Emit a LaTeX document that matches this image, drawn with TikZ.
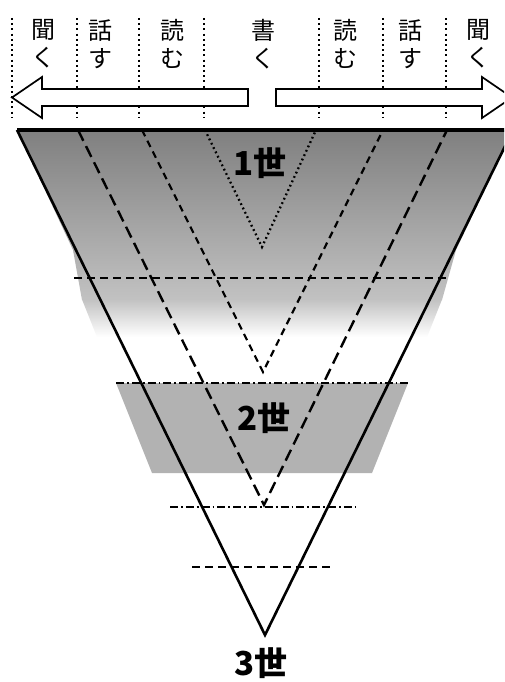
\documentclass[tikz,border=0pt]{standalone}
\usepackage{fontspec}
\newfontfamily\jpfont{Noto Sans CJK JP}
\usetikzlibrary{positioning}

\definecolor{shadeTop}{gray}{0.50}
\definecolor{shadeMid}{gray}{0.76}
\definecolor{bandGray}{gray}{0.70}

\begin{document}
\begin{tikzpicture}[x=1pt,y=-1pt,
    lbl/.style={font=\jpfont\fontsize{24}{28}\selectfont, align=center, inner sep=0pt},
    sei/.style={font=\jpfont\bfseries\fontsize{33}{33}\selectfont, inner sep=0pt},
    guide/.style={line width=2.2pt, dash pattern=on 2pt off 3.2pt},
    arrowbox/.style={draw, fill=white, line width=1.7pt, line join=miter},
    sidedash/.style={line width=2.2pt, dash pattern=on 8pt off 5pt},
    longdash/.style={line width=2.4pt, dash pattern=on 12pt off 6pt},
    shortdash/.style={line width=2.2pt, dash pattern=on 7pt off 5pt},
    dotline/.style={line width=2.3pt, dash pattern=on 1.8pt off 3pt},
    dashdot/.style={line width=2pt, dash pattern=on 8pt off 3pt on 1.8pt off 3pt}]

        % Page frame
        \useasboundingbox (0,0) rectangle (504,682);
        \fill[white] (0,0) rectangle (504,682);
        \clip (0,0) rectangle (504,682);

        % Gray bands (edges follow the triangle, then widen)
        \shade[top color=shadeTop, bottom color=shadeMid]
            (17,130) -- (513,130) -- (456,250) -- (442,300) -- (82,300) -- (73,250) -- cycle;
        \shade[top color=shadeMid, bottom color=white]
            (82,299.5) -- (442,299.5) -- (427,337) -- (97,337) -- cycle;
        \fill[bandGray] (116,383) -- (408,383) -- (372,473) -- (152,473) -- cycle;

        % Dotted column guides
        \foreach \gx in {12,77,139,204,319,383,446}
            \draw[guide] (\gx,18) -- (\gx,118);

        % Column labels
        \node[lbl] (kikuL) at (43,44) {聞\\く};
        \node[lbl] (hanasuL) at (100,44) {話\\す};
        \node[lbl] (yomuL) at (172,44) {読\\む};
        \node[lbl] (kaku) at (263,44) {書\\く};
        \node[lbl] (yomuR) at (345,44) {読\\む};
        \node[lbl] (hanasuR) at (410,44) {話\\す};
        \node[lbl] (kikuR) at (478,44) {聞\\く};

        % Hollow arrows
        \draw[arrowbox] (248,89) -- (42,89) -- (42,77) -- (12,97.5)
            -- (42,118) -- (42,106) -- (248,106) -- cycle;
        \draw[arrowbox] (276,89) -- (482,89) -- (482,77) -- (512,97.5)
            -- (482,118) -- (482,106) -- (276,106) -- cycle;

        % Horizontal levels
        \draw[sidedash] (74,278) -- (450,278);
        \draw[dashdot] (116,383) -- (408,383);
        \draw[dashdot] (170,507) -- (356,507);
        \draw[sidedash] (192,567) -- (333,567);

        % Inner V shapes
        \coordinate (dotL) at (205,130);
        \coordinate (dotR) at (316,130);
        \coordinate (dotApex) at (262,247);
        \coordinate (shortL) at (142,130);
        \coordinate (shortR) at (383,130);
        \coordinate (shortApex) at (263,372);
        \coordinate (longL) at (78,130);
        \coordinate (longR) at (447,130);
        \coordinate (longApex) at (264,505);
        \draw[dotline] (dotL) -- (dotApex) -- (dotR);
        \draw[shortdash] (shortL) -- (shortApex) -- (shortR);
        \draw[longdash] (longL) -- (longApex) -- (longR);

        % Main triangle
        \coordinate (topL) at (17,130);
        \coordinate (topR) at (513,130);
        \coordinate (apex) at (265,635);
        \draw[line width=2.6pt, line join=miter] (topL) -- (apex) -- (topR);
        \draw[line width=3.5pt] (topL) -- (topR);

        % Generation labels
        \node[sei] (gen1) at (260,163) {1世};
        \node[sei] (gen2) at (264,418) {2世};
        \node[sei] (gen3) at (261,663) {3世};
    \end{tikzpicture}
\end{document}
